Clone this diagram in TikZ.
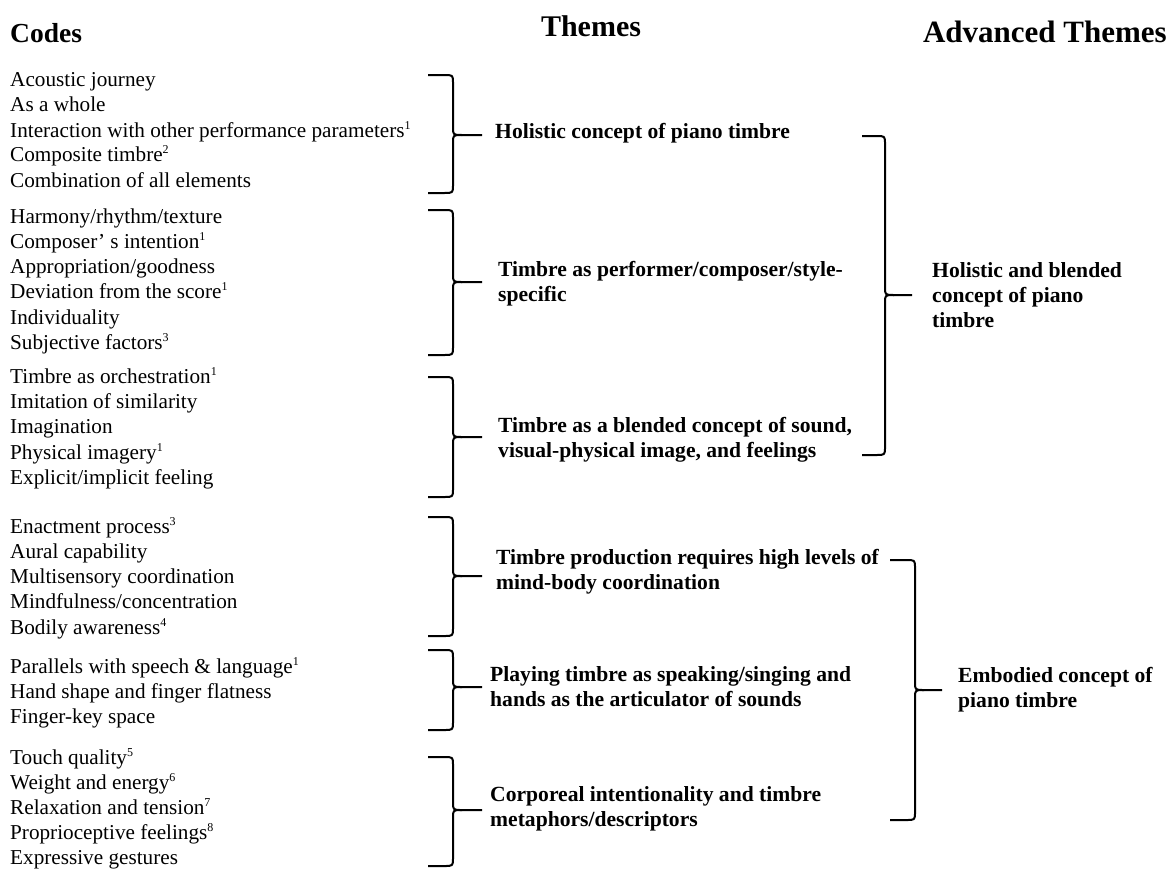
\documentclass[tikz,border=0pt]{standalone}
\usepackage{fontspec}
\setmainfont{Liberation Serif}
\newcommand\mybrace[6]{% x0 x1 x2 ytop ymid ybot
  \draw[bracestyle] (#1,#4) -- ({#2-9},#4) .. controls (#2,#4) .. (#2,{#4+8}) -- (#2,{#5-8}) .. controls (#2,#5) .. ({#2+9},#5) -- (#3,#5);
  \draw[bracestyle] ({#2+9},#5) .. controls (#2,#5) .. (#2,{#5+8}) -- (#2,{#6-8}) .. controls (#2,#6) .. ({#2-9},#6) -- (#1,#6);
}
\newcommand\sups[1]{\raisebox{0.75ex}{\fontsize{12}{12}\selectfont #1}}
\begin{document}
\begin{tikzpicture}[x=1pt,y=-1pt,
  code/.style={anchor=base west, inner sep=0pt, font=\fontsize{21.2}{25}\selectfont},
  theme/.style={anchor=west, align=left, inner sep=0pt, font=\fontsize{21.6}{25}\selectfont\bfseries},
  head/.style={anchor=base west, inner sep=0pt, font=\fontsize{27.5}{30}\selectfont\bfseries},
  bracestyle/.style={line width=2pt, line cap=butt, line join=round}]
\useasboundingbox[fill=white] (0,0) rectangle (1169,870);

\node[head] (hcodes) at (10,42) {Codes};
\node[head, font=\fontsize{30}{32}\selectfont\bfseries, anchor=base] (hthemes) at (591,36) {Themes};
\node[head, font=\fontsize{31}{32}\selectfont\bfseries, anchor=base east] (hadv) at (1167,42) {Advanced Themes};

\foreach \t/\y [count=\i] in {
  {Acoustic journey}/86,
  {As a whole}/111,
  {Interaction with other performance parameters\sups{1}}/137,
  {Composite timbre\sups{2}}/161,
  {Combination of all elements}/187,
  {Harmony/rhythm/texture}/223,
  {Composer’ s intention\sups{1}}/248,
  {Appropriation/goodness}/273,
  {Deviation from the score\sups{1}}/298,
  {Individuality}/324,
  {Subjective factors\sups{3}}/349,
  {Timbre as orchestration\sups{1}}/383,
  {Imitation of similarity}/408,
  {Imagination}/433,
  {Physical imagery\sups{1}}/459,
  {Explicit/implicit feeling}/484,
  {Enactment process\sups{3}}/533,
  {Aural capability}/558,
  {Multisensory coordination}/583,
  {Mindfulness/concentration}/608,
  {Bodily awareness\sups{4}}/634,
  {Parallels with speech \& language\sups{1}}/673,
  {Hand shape and finger flatness}/698,
  {Finger-key space}/723,
  {Touch quality\sups{5}}/764,
  {Weight and energy\sups{6}}/789,
  {Relaxation and tension\sups{7}}/814,
  {Proprioceptive feelings\sups{8}}/839,
  {Expressive gestures}/864}
  \node[code] (c\i) at (10,\y) {\t};

% themes
\node[theme] (t1) at (495,133) {Holistic concept of piano timbre};
\node[theme] (t2) at (498,284) {Timbre as performer/composer/style-\\specific};
\node[theme] (t3) at (498,440) {Timbre as a blended concept of sound,\\visual-physical image, and feelings};
\node[theme] (t4) at (496,572) {Timbre production requires high levels of\\mind-body coordination};
\node[theme] (t5) at (490,687) {Playing timbre as speaking/singing and\\hands as the articulator of sounds};
\node[theme] (t6) at (490,809) {Corporeal intentionality and timbre\\metaphors/descriptors};

% advanced themes
\node[theme] (a1) at (932,295) {Holistic and blended\\concept of piano\\timbre};
\node[theme] (a2) at (958,690) {Embodied concept of\\piano timbre};

% left braces
\mybrace{428}{453}{482}{75}{135}{193}
\mybrace{428}{453}{482}{210}{282}{355}
\mybrace{428}{453}{482}{377}{437}{497}
\mybrace{428}{453}{482}{517}{576}{636}
\mybrace{428}{453}{482}{650}{687}{730}
\mybrace{428}{453}{482}{757}{810}{866}

% right braces
\mybrace{862}{885}{912}{136}{295}{455}
\mybrace{890}{915}{942}{560}{690}{820}
\end{tikzpicture}
\end{document}
